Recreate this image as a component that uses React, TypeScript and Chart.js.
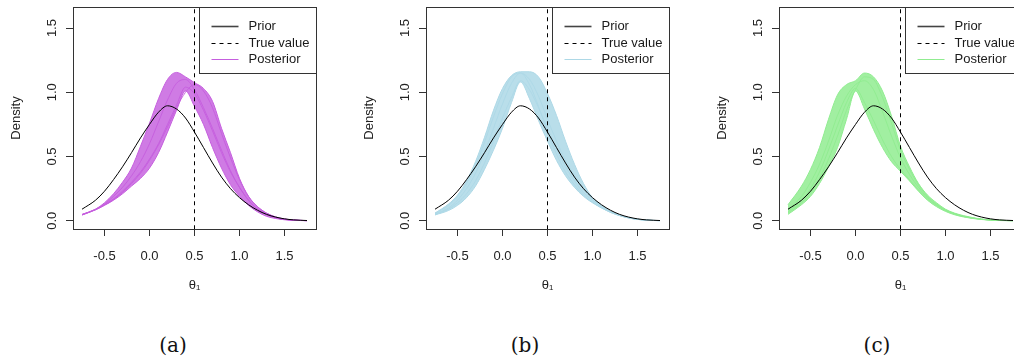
import React, { useEffect, useRef } from 'react';
import { Chart, registerables } from 'chart.js';

Chart.register(...registerables);
Chart.defaults.font.family = "'Liberation Sans', Arial, sans-serif";

// ---------- data ----------
const thetaGrid = [-0.75, -0.6, -0.5, -0.4, -0.3, -0.2, -0.1, 0, 0.1, 0.2, 0.3, 0.4, 0.5, 0.6, 0.7, 0.8, 0.9, 1.0, 1.1, 1.2, 1.3, 1.4, 1.5, 1.6, 1.75];
const priorDensity = [0.09, 0.16, 0.23, 0.32, 0.42, 0.53, 0.645, 0.75, 0.845, 0.895, 0.87, 0.80, 0.69, 0.57, 0.45, 0.34, 0.25, 0.18, 0.125, 0.082, 0.05, 0.029, 0.015, 0.007, 0.002];
const trueTheta = 0.5;

const xTicks = [-0.5, 0, 0.5, 1.0, 1.5];
const yTicks = [0, 0.5, 1.0, 1.5];
const xLimits = [-0.85, 1.85];
const yLimits = [-0.064, 1.664];
const legendLabels = ['Prior', 'True value', 'Posterior'];
const captions = ['(a)', '(b)', '(c)'];

// panel (a): posterior band envelope and a few individual draws
const aUpper = [0.05, 0.09, 0.14, 0.21, 0.30, 0.41, 0.58, 0.76, 0.95, 1.10, 1.155, 1.12, 1.075, 1.03, 0.93, 0.72, 0.53, 0.33, 0.19, 0.11, 0.06, 0.03, 0.014, 0.006, 0.001];
const aLower = [0.045, 0.085, 0.12, 0.16, 0.21, 0.27, 0.33, 0.41, 0.53, 0.69, 0.86, 1.01, 0.89, 0.75, 0.57, 0.41, 0.28, 0.19, 0.12, 0.07, 0.035, 0.018, 0.008, 0.003, 0.001];
const aDraw1 = [0.046, 0.087, 0.125, 0.17, 0.23, 0.30, 0.38, 0.48, 0.60, 0.75, 0.90, 1.04, 0.99, 0.86, 0.70, 0.53, 0.38, 0.26, 0.16, 0.09, 0.05, 0.024, 0.011, 0.005, 0.001];
const aDraw2 = [0.048, 0.09, 0.13, 0.19, 0.26, 0.35, 0.46, 0.60, 0.77, 0.94, 1.07, 1.10, 1.02, 0.88, 0.72, 0.55, 0.39, 0.26, 0.16, 0.09, 0.05, 0.024, 0.011, 0.005, 0.001];
const aDraw3 = [0.046, 0.086, 0.122, 0.165, 0.22, 0.29, 0.37, 0.47, 0.59, 0.73, 0.88, 1.00, 1.06, 1.01, 0.88, 0.68, 0.49, 0.32, 0.19, 0.11, 0.06, 0.03, 0.013, 0.005, 0.001];

// panel (b)
const bUpper = [0.06, 0.13, 0.20, 0.31, 0.46, 0.65, 0.86, 1.03, 1.13, 1.16, 1.16, 1.12, 0.99, 0.82, 0.62, 0.44, 0.29, 0.18, 0.12, 0.075, 0.045, 0.025, 0.012, 0.005, 0.001];
const bLower = [0.045, 0.08, 0.12, 0.18, 0.27, 0.40, 0.55, 0.72, 0.92, 1.08, 0.95, 0.78, 0.62, 0.47, 0.35, 0.26, 0.19, 0.14, 0.10, 0.065, 0.04, 0.022, 0.011, 0.004, 0.001];
const bDraw1 = [0.05, 0.09, 0.14, 0.21, 0.31, 0.45, 0.62, 0.80, 0.96, 1.09, 1.02, 0.88, 0.72, 0.56, 0.42, 0.31, 0.22, 0.16, 0.11, 0.07, 0.042, 0.023, 0.011, 0.005, 0.001];
const bDraw2 = [0.052, 0.10, 0.16, 0.25, 0.37, 0.53, 0.72, 0.91, 1.07, 1.15, 1.10, 0.97, 0.79, 0.62, 0.47, 0.35, 0.25, 0.17, 0.115, 0.072, 0.044, 0.024, 0.012, 0.005, 0.001];
const bDraw3 = [0.058, 0.12, 0.19, 0.29, 0.43, 0.61, 0.81, 0.99, 1.12, 1.15, 1.06, 0.89, 0.69, 0.52, 0.38, 0.28, 0.20, 0.145, 0.10, 0.066, 0.041, 0.023, 0.011, 0.005, 0.001];

// panel (c)
const cUpper = [0.125, 0.27, 0.40, 0.57, 0.79, 0.98, 1.06, 1.09, 1.15, 1.12, 1.01, 0.815, 0.58, 0.42, 0.29, 0.20, 0.14, 0.09, 0.06, 0.04, 0.025, 0.013, 0.007, 0.003, 0.001];
const cLower = [0.05, 0.125, 0.19, 0.29, 0.42, 0.57, 0.79, 1.01, 0.87, 0.71, 0.57, 0.46, 0.385, 0.31, 0.23, 0.16, 0.11, 0.073, 0.047, 0.03, 0.018, 0.01, 0.005, 0.002, 0.0];
const cDraw1 = [0.07, 0.16, 0.25, 0.38, 0.55, 0.74, 0.92, 1.03, 0.92, 0.78, 0.63, 0.50, 0.40, 0.32, 0.24, 0.17, 0.12, 0.08, 0.052, 0.033, 0.02, 0.011, 0.006, 0.003, 0.001];
const cDraw2 = [0.085, 0.19, 0.30, 0.44, 0.62, 0.82, 0.97, 1.06, 1.09, 1.02, 0.85, 0.66, 0.49, 0.36, 0.26, 0.18, 0.125, 0.082, 0.054, 0.035, 0.021, 0.012, 0.006, 0.003, 0.001];
const cDraw3 = [0.06, 0.14, 0.22, 0.33, 0.48, 0.66, 0.86, 1.02, 1.12, 1.10, 0.96, 0.76, 0.55, 0.40, 0.28, 0.19, 0.13, 0.085, 0.056, 0.036, 0.022, 0.012, 0.006, 0.003, 0.001];

const panelColors = ['rgb(197,94,222)', 'rgb(173,216,230)', 'rgb(144,236,144)'];
const panelBands = ['rgba(197,94,222,0.82)', 'rgba(173,216,230,0.85)', 'rgba(144,236,144,0.85)'];

// ---------- layout / style ----------
const CANVAS_W = 345;
const CANVAS_H = 300;
const PANEL_LEFTS = [0, 353, 706];
const CAPTION_X = [173, 525, 877];

type PanelSpec = { upper: number[]; lower: number[]; draws: number[][]; color: string; band: string };

const panels: PanelSpec[] = [
  { upper: aUpper, lower: aLower, draws: [aDraw1, aDraw2, aDraw3], color: panelColors[0], band: panelBands[0] },
  { upper: bUpper, lower: bLower, draws: [bDraw1, bDraw2, bDraw3], color: panelColors[1], band: panelBands[1] },
  { upper: cUpper, lower: cLower, draws: [cDraw1, cDraw2, cDraw3], color: panelColors[2], band: panelBands[2] },
];

const toPoints = (ys: number[]) => thetaGrid.map((x, i) => ({ x, y: ys[i] }));

const frameLegendPlugin = {
  id: 'frameLegend',
  afterDraw(chart: any, _args: any, opts: any) {
    const { ctx, chartArea: a } = chart;
    ctx.save();
    // plot box
    ctx.strokeStyle = '#333';
    ctx.lineWidth = 1;
    const L = Math.round(a.left) + 0.5;
    const T = Math.round(a.top) + 0.5;
    const R = Math.round(a.right) + 0.5;
    const B = Math.round(a.bottom) + 0.5;
    ctx.strokeRect(L, T, R - L, B - T);
    // legend box (top right)
    const w = 117;
    const h = 66;
    const lx = R - w;
    ctx.fillStyle = '#fff';
    ctx.fillRect(lx, T, w, h);
    ctx.strokeStyle = '#333';
    ctx.strokeRect(lx, T, w, h);
    const rowY = [T + 18, T + 35, T + 51];
    const styles = [
      { color: '#444', width: 1.6, dash: [] as number[] },
      { color: '#000', width: 1, dash: [4, 4] },
      { color: opts.color, width: 1, dash: [] as number[] },
    ];
    ctx.font = "13px 'Liberation Sans', Arial, sans-serif";
    ctx.textBaseline = 'middle';
    ctx.textAlign = 'left';
    legendLabels.forEach((lab, i) => {
      const y = Math.round(rowY[i]) + 0.5;
      ctx.beginPath();
      ctx.setLineDash(styles[i].dash);
      ctx.strokeStyle = styles[i].color;
      ctx.lineWidth = styles[i].width;
      ctx.moveTo(lx + 12, y);
      ctx.lineTo(lx + 39, y);
      ctx.stroke();
      ctx.setLineDash([]);
      ctx.fillStyle = '#1a1a1a';
      ctx.fillText(lab, lx + 49, y);
    });
    ctx.restore();
  },
};

function PosteriorPanel({ spec, left }: { spec: PanelSpec; left: number }) {
  const ref = useRef<HTMLCanvasElement>(null);
  useEffect(() => {
    const curve = { pointRadius: 0, borderWidth: 1, cubicInterpolationMode: 'monotone' as const, fill: false };
    const upperIndex = 2 + spec.draws.length;
    const datasets: any[] = [
      {
        label: legendLabels[1],
        data: [{ x: trueTheta, y: -1 }, { x: trueTheta, y: 3 }],
        borderColor: '#000',
        borderWidth: 1,
        borderDash: [4, 4],
        pointRadius: 0,
        fill: false,
      },
      { ...curve, label: legendLabels[0], data: toPoints(priorDensity), borderColor: '#000' },
      ...spec.draws.map((d) => ({ ...curve, label: legendLabels[2], data: toPoints(d), borderColor: spec.color, borderWidth: 0.9 })),
      { ...curve, label: legendLabels[2], data: toPoints(spec.upper), borderColor: spec.color },
      {
        ...curve,
        label: legendLabels[2],
        data: toPoints(spec.lower),
        borderColor: spec.color,
        fill: { target: upperIndex },
        backgroundColor: spec.band,
      },
    ];
    const chart = new Chart(ref.current as HTMLCanvasElement, {
      type: 'line',
      data: { datasets },
      plugins: [frameLegendPlugin],
      options: {
        responsive: false,
        animation: false,
        devicePixelRatio: 1,
        events: [],
        layout: { padding: { left: 0, top: 7, right: 29, bottom: 0 } },
        plugins: {
          legend: { display: false },
          tooltip: { enabled: false },
          frameLegend: { color: spec.color },
        } as any,
        scales: {
          x: {
            type: 'linear',
            min: xLimits[0],
            max: xLimits[1],
            afterBuildTicks: (s: any) => {
              s.ticks = xTicks.map((v) => ({ value: v }));
            },
            afterFit: (s: any) => {
              s.height = 71;
              s.paddingLeft = 0;
              s.paddingRight = 0;
              s.paddingTop = 0;
              s.paddingBottom = 0;
            },
            grid: { display: true, drawOnChartArea: false, drawTicks: true, tickLength: 7, color: '#333' },
            border: { display: false },
            ticks: {
              font: { size: 13 },
              color: '#222',
              padding: 13,
              maxRotation: 0,
              autoSkip: false,
              callback: (v: any) => Number(v).toFixed(1),
            },
            title: { display: true, text: 'θ₁', font: { size: 13 }, color: '#222', padding: { top: 0, bottom: 7 } },
          },
          y: {
            type: 'linear',
            min: yLimits[0],
            max: yLimits[1],
            afterBuildTicks: (s: any) => {
              s.ticks = yTicks.map((v) => ({ value: v }));
            },
            afterFit: (s: any) => {
              s.width = 73;
              s.paddingLeft = 0;
              s.paddingRight = 0;
              s.paddingTop = 0;
              s.paddingBottom = 0;
            },
            grid: { display: true, drawOnChartArea: false, drawTicks: true, tickLength: 7, color: '#333' },
            border: { display: false },
            ticks: {
              font: { size: 13 },
              color: '#222',
              padding: 5,
              minRotation: 90,
              maxRotation: 90,
              crossAlign: 'center',
              autoSkip: false,
              callback: (v: any) => Number(v).toFixed(1),
            },
            title: { display: true, text: 'Density', font: { size: 13 }, color: '#222', padding: { top: 9, bottom: 0 } },
          },
        },
      } as any,
    });
    return () => chart.destroy();
  }, [spec]);
  return (
    <canvas
      ref={ref}
      width={CANVAS_W}
      height={CANVAS_H}
      style={{ position: 'absolute', left, top: 0, width: CANVAS_W, height: CANVAS_H }}
    />
  );
}

export default function App() {
  return (
    <div
      style={{
        position: 'absolute',
        left: 0,
        top: 0,
        width: 1014,
        height: 362,
        overflow: 'hidden',
        background: '#fff',
      }}
    >
      {panels.map((p, i) => (
        <PosteriorPanel key={i} spec={p} left={PANEL_LEFTS[i]} />
      ))}
      {captions.map((c, i) => (
        <div
          key={c}
          style={{
            position: 'absolute',
            left: CAPTION_X[i] - 40,
            width: 80,
            top: 332,
            lineHeight: '26px',
            textAlign: 'center',
            fontFamily: "'DejaVu Serif', 'Liberation Serif', serif",
            fontSize: 20,
            color: '#111',
          }}
        >
          {c}
        </div>
      ))}
    </div>
  );
}
